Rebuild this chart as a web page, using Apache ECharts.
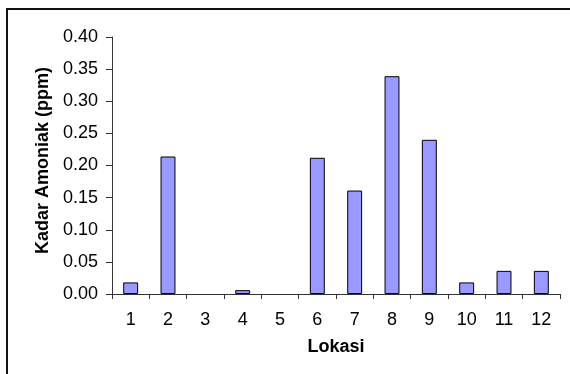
<!DOCTYPE html>
<html>
<head>
<meta charset="utf-8">
<script src="https://cdn.jsdelivr.net/npm/echarts@6/dist/echarts.min.js"></script>
<style>
html,body{margin:0;padding:0;background:#fff;}
#chart{width:570px;height:374px;}
</style>
</head>
<body>
<div id="chart"></div>
<script>
const categories = ['1','2','3','4','5','6','7','8','9','10','11','12'];
const values = [0.018, 0.214, 0, 0.006, 0, 0.212, 0.161, 0.339, 0.240, 0.018, 0.036, 0.036];
const yTicks = [0, 0.05, 0.10, 0.15, 0.20, 0.25, 0.30, 0.35, 0.40];
const xName = 'Lokasi';
const yName = 'Kadar Amoniak (ppm)';

const chart = echarts.init(document.getElementById('chart'), null, {renderer: 'canvas'});
const font = 'Liberation Sans, Arial, sans-serif';
chart.setOption({
  animation: false,
  backgroundColor: '#fff',
  graphic: [{
    type: 'rect',
    shape: {x: 7, y: 9, width: 580, height: 380},
    style: {fill: 'none', stroke: '#111', lineWidth: 2},
    silent: true
  }],
  grid: {left: 112, right: 10, top: 37, bottom: 80, containLabel: false},
  xAxis: {
    type: 'category',
    data: categories,
    name: xName,
    nameLocation: 'middle',
    nameGap: 44,
    nameTextStyle: {fontFamily: font, fontSize: 18, fontWeight: 'bold', color: '#000'},
    axisLine: {lineStyle: {color: '#333', width: 1}},
    axisTick: {show: true, alignWithLabel: false, length: 5, lineStyle: {color: '#333'}},
    axisLabel: {fontFamily: font, fontSize: 18, color: '#000', margin: 17, interval: 0}
  },
  yAxis: {
    type: 'value',
    min: yTicks[0],
    max: yTicks[yTicks.length - 1],
    interval: 0.05,
    name: yName,
    nameLocation: 'middle',
    nameGap: 59,
    nameTextStyle: {fontFamily: font, fontSize: 18, fontWeight: 'bold', color: '#000', padding: [0, 0, 0, 10]},
    axisLine: {show: true, lineStyle: {color: '#333', width: 1}},
    axisTick: {show: true, length: 6, lineStyle: {color: '#333'}},
    splitLine: {show: false},
    axisLabel: {fontFamily: font, fontSize: 18, color: '#000', margin: 14,
      formatter: v => v.toFixed(2)}
  },
  series: [{
    type: 'bar',
    data: values.map(v => ({value: v, itemStyle: {borderWidth: v === 0 ? 0 : 1}})),
    barWidth: '40%',
    itemStyle: {color: '#9999FF', borderColor: '#000', borderWidth: 1}
  }]
});
</script>
</body>
</html>
